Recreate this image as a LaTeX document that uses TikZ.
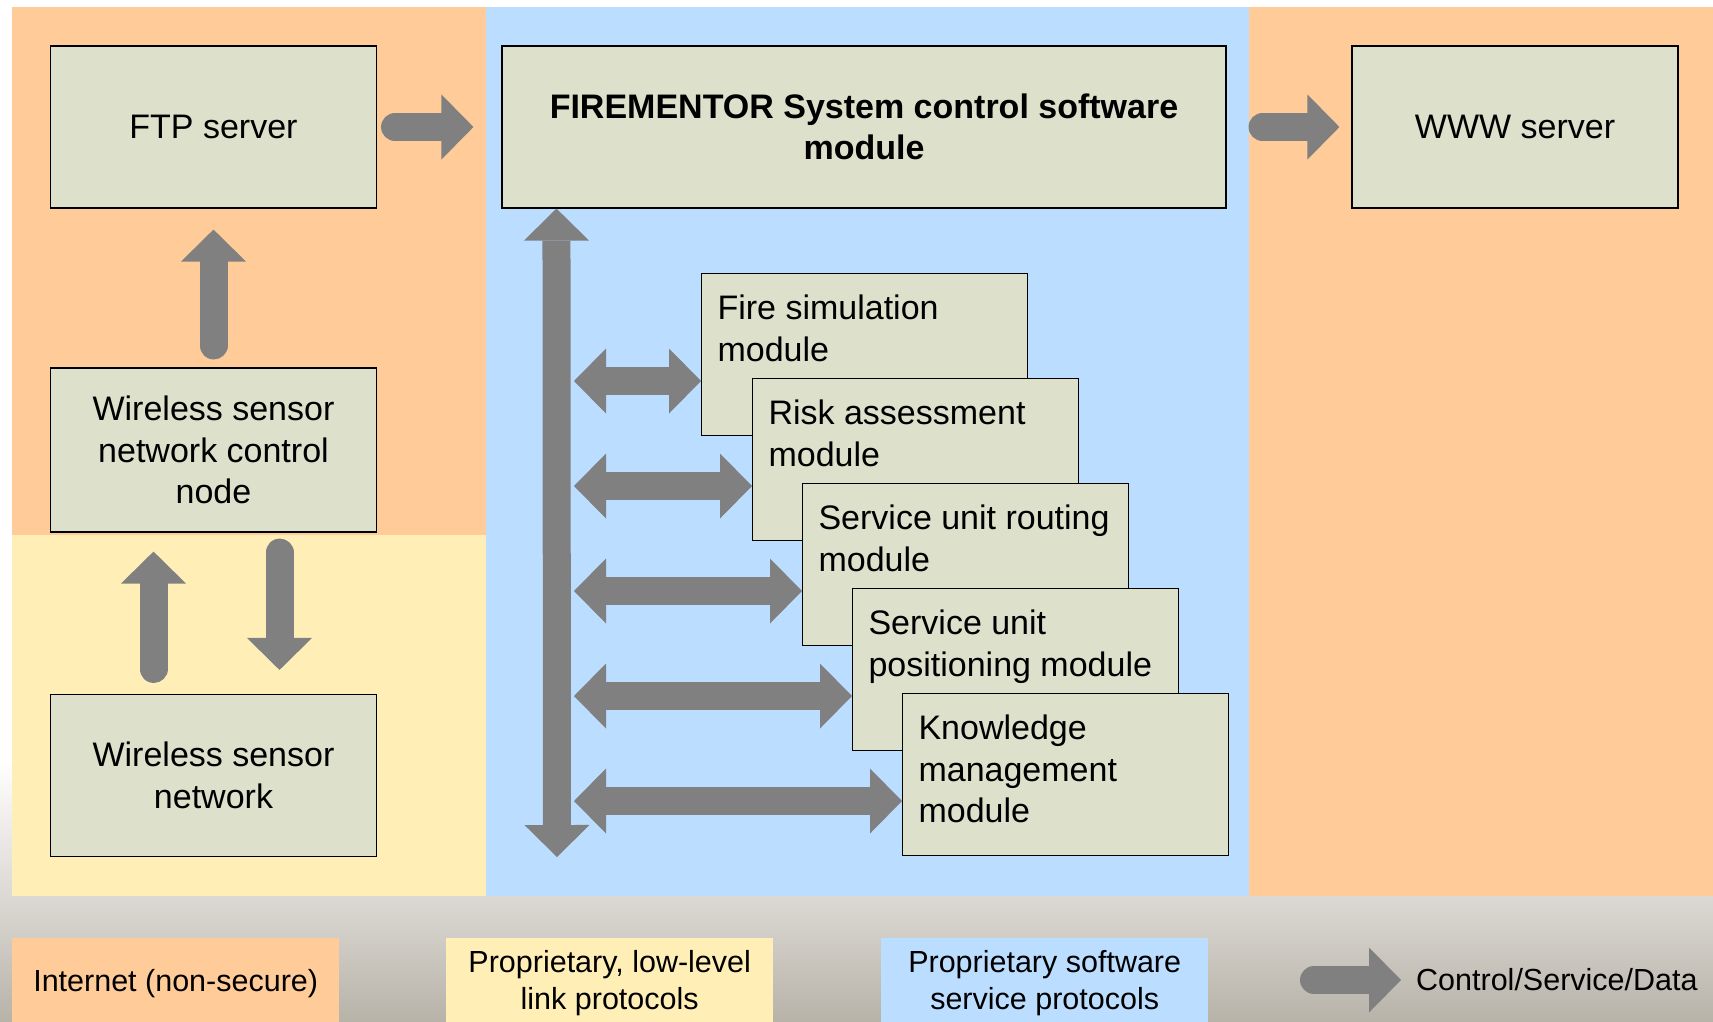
\documentclass[tikz,border=0pt]{standalone}
\usepackage{fontspec}
\setmainfont{Liberation Sans}
\usetikzlibrary{arrows.meta,calc}
\definecolor{orng}{HTML}{FFCC99}
\definecolor{blu}{HTML}{BBDDFF}
\definecolor{ylw}{HTML}{FFEFB7}
\definecolor{boxf}{HTML}{DDE0CB}
\definecolor{arr}{HTML}{808080}
\definecolor{bgA}{HTML}{B7B3A9}
\definecolor{bgB}{HTML}{DCD9D4}
\newcommand\modtext[1]{\parbox[c][128pt][t]{294pt}{\raggedright\strut #1}}
\tikzset{
  box/.style={draw=black, line width=1.1pt, fill=boxf, minimum width=326pt, minimum height=162pt,
    inner sep=0pt, font=\fontsize{34}{41.5}\selectfont, align=center},
  modbox/.style={box, anchor=north west},
  fat/.style={draw=arr, line width=28pt, line cap=round,
    -{Triangle[length=32pt,width=65pt,line width=0pt]}},
  dbl/.style={draw=arr, line width=28pt,
    {Triangle[length=32pt,width=65pt,line width=0pt]}-{Triangle[length=32pt,width=65pt,line width=0pt]}},
  legbox/.style={minimum width=327pt, minimum height=90pt, inner sep=0pt, anchor=north west,
    font=\fontsize{30.5}{37}\selectfont, align=center},
  legtext/.style={font=\fontsize{30.5}{37}\selectfont, inner sep=0pt}
}
\begin{document}
\begin{tikzpicture}[x=1pt,y=-1pt]
\useasboundingbox (0,0) rectangle (1713,1021);
% background
\fill[white] (0,0) rectangle (1713,1021);
\shade[top color=white, bottom color=bgB] (0,760) rectangle (1713,896);
\shade[top color=bgB, bottom color=bgA] (0,896) rectangle (1713,1021);
% zones
\fill[orng] (12,7) rectangle (486,535);
\fill[ylw] (12,535) rectangle (486,896);
\fill[blu] (486,7) rectangle (1249,896);
\fill[orng] (1249,7) rectangle (1713,896);
% main boxes
\node[box] (ftp) at (213.5,127) {FTP server};
\node[box, minimum height=164pt] (wsnc) at (213.5,450) {Wireless sensor\\network control\\node};
\node[box] (wsn) at (213.5,775.5) {Wireless sensor\\network};
\node[box, minimum width=724pt, font=\fontsize{34}{41.5}\selectfont\bfseries] (fm) at (864,127) {FIREMENTOR System control software\\module};
\node[box] (www) at (1515,127) {WWW server};
% modules
\node[modbox] (fs) at (701,273) {\modtext{Fire simulation\\module}};
\node[modbox] (ra) at (752,378) {\modtext{Risk assessment\\module}};
\node[modbox] (sr) at (802,483) {\modtext{Service unit routing\\module}};
\node[modbox] (sp) at (852,588) {\modtext{Service unit\\positioning module}};
\node[modbox] (km) at (902,693) {\modtext{Knowledge\\management\\module}};
% arrows left column
\draw[fat] ([xshift=18pt]ftp.east) -- ([xshift=-28pt]fm.west);
\draw[fat] ([xshift=36pt]fm.east) -- ([xshift=-12pt]www.west);
\draw[fat] ([yshift=22pt]wsnc.north) -- ([yshift=-21pt]ftp.south);
\draw[fat] ([xshift=-60pt,yshift=25pt]wsn.north) -- ([xshift=-60pt,yshift=-19pt]wsnc.south);
\draw[fat] ([xshift=66pt,yshift=-20pt]wsnc.south) -- ([xshift=66pt,yshift=24pt]wsn.north);
% bus
\coordinate (busbot) at (557,857);
\coordinate (busr) at (574,0);
\draw[dbl] ([xshift=55pt]fm.south west) -- (busbot);
\foreach \m in {fs,ra,sr,sp,km}{
  \coordinate (h\m) at ([yshift=-108pt]\m.north west);
  \draw[dbl] (busr |- h\m) -- (h\m);
}
% legend
\node[legbox, fill=orng] (l1) at (12,938) {Internet (non-secure)};
\node[legbox, fill=ylw] (l2) at (446,938) {Proprietary, low-level\\link protocols};
\node[legbox, fill=blu] (l3) at (881,938) {Proprietary software\\service protocols};
\node[legtext, anchor=west] (l4) at (1416,980) {Control/Service/Data};
\draw[fat] ([xshift=-102pt]l4.west) -- ([xshift=-15pt]l4.west);
\end{tikzpicture}
\end{document}
